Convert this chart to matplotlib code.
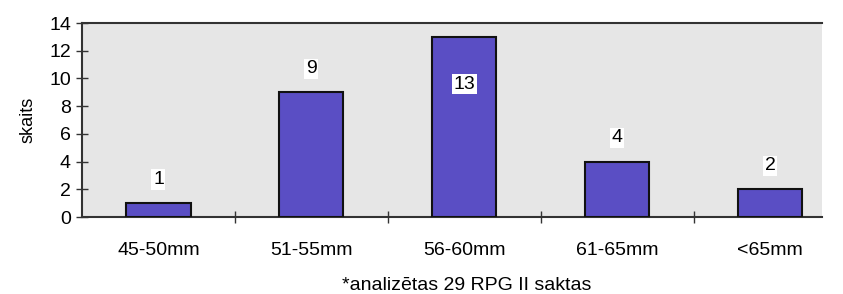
import matplotlib.pyplot as plt
import numpy as np

plt.rcParams['font.family'] = ['Liberation Sans', 'DejaVu Sans']

categories = ['45-50mm', '51-55mm', '56-60mm', '61-65mm', '<65mm']
counts = [1, 9, 13, 4, 2]
label_offsets = [17, 17, -34, 17, 17]  # points, 13 sits inside the bar

fig = plt.figure(figsize=(8.43, 2.94), dpi=100)
ax = fig.add_axes([82 / 843, 1 - 217 / 294, 740 / 843, 194 / 294])
ax.set_facecolor('#e6e6e6')

x = np.arange(len(categories))
ax.bar(x, counts, width=0.42, color='#5a4ec4', edgecolor='#111111', linewidth=1.5, zorder=3)

for xi, c, off in zip(x, counts, label_offsets):
    ax.annotate(str(c), (xi, c), xytext=(0, off), textcoords='offset points',
                ha='center', va='center', fontsize=14, zorder=4,
                bbox=dict(boxstyle='square,pad=0.08', fc='white', ec='none'))

ax.set_xlim(-0.5, 4.34)
ax.set_ylim(0, 14)
ax.set_yticks(range(0, 15, 2))
ax.set_xticks(x)
ax.set_xticklabels(categories, fontsize=14)
ax.set_xticks(np.arange(0.5, 4.5, 1), minor=True)
ax.tick_params(axis='x', which='major', length=0, pad=18)
ax.tick_params(axis='x', which='minor', direction='inout', length=8, width=1, color='#333333')
ax.tick_params(axis='y', direction='inout', length=8, width=1, color='#333333', labelsize=14, pad=4)

for s in ['left', 'bottom', 'top']:
    ax.spines[s].set_color('#333333')
    ax.spines[s].set_linewidth(1.5)
ax.spines['right'].set_visible(False)

ax.set_ylabel('skaits', fontsize=13, labelpad=9)
fig.text(467 / 843, 1 - 286 / 294, '*analizētas 29 RPG II saktas', ha='center', va='center', fontsize=14)

fig.savefig('out.png', dpi=100)
